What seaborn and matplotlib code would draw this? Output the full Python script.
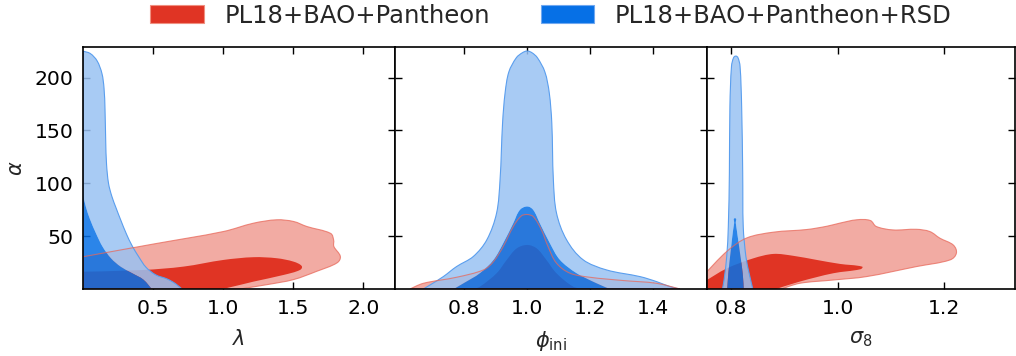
import numpy as np
import pandas as pd
import matplotlib
matplotlib.use("Agg")
import matplotlib.pyplot as plt
from matplotlib.patches import Patch, PathPatch
from matplotlib.path import Path
import seaborn as sns

# ---------------- data: contour outlines ----------------
series_names = ["PL18+BAO+Pantheon", "PL18+BAO+Pantheon+RSD"]
x_labels = [r"$\lambda$", r"$\phi_{\rm ini}$", r"$\sigma_8$"]
y_label = r"$\alpha$"
x_ticks = [[0.5, 1.0, 1.5, 2.0], [0.8, 1.0, 1.2, 1.4], [0.8, 1.0, 1.2]]
y_ticks = [50, 100, 150, 200]

# panel 1: lambda - alpha
lam_red95_x = [0, 0, 0.5, 1.002, 1.217, 1.383, 1.502, 1.598, 1.764, 1.788, 1.790, 1.836, 1.812, 1.669, 1.502, 1.312, 1.12]
lam_red95_y = [0, 30.5, 42.5, 54.4, 62.3, 65.5, 63.9, 59.1, 52.8, 46.5, 40.2, 30.9, 24.7, 16.8, 8.9, 4.1, 0]
lam_red68_x = [0, 0, 0.43, 0.717, 1.002, 1.217, 1.383, 1.502, 1.56, 1.548, 1.431, 1.217, 1.026, 0.979]
lam_red68_y = [0, 16.4, 18.0, 21.2, 27.5, 30.1, 29.1, 25.9, 21.8, 18.0, 13.3, 7.0, 0.9, 0]
lam_blue95_x = [0, 0, 0.05, 0.10, 0.135, 0.150, 0.157, 0.162, 0.168, 0.182, 0.205, 0.235, 0.27, 0.31, 0.35, 0.40, 0.45, 0.52, 0.60, 0.66, 0.705]
lam_blue95_y = [0, 225, 223, 216, 204, 190, 170, 140, 118, 100, 88, 77, 65, 52, 41, 30, 20.5, 13.3, 9.5, 5.0, 0]
lam_blue68_x = [0, 0, 0.02, 0.05, 0.095, 0.14, 0.20, 0.27, 0.35, 0.43, 0.49]
lam_blue68_y = [0, 89, 78, 66, 52, 40, 29, 21, 15, 9, 0]

# panel 2: phi_ini - alpha
phi_red95_x = [0.629, 0.671, 0.776, 0.861, 0.893, 0.924, 0.956, 0.982, 1.0, 1.019, 1.045, 1.066, 1.093, 1.136, 1.199, 1.305, 1.410, 1.484]
phi_red95_y = [0, 5.4, 11.1, 18.0, 25.9, 40.2, 59.1, 69.3, 70.5, 68.6, 56.0, 40.2, 24.4, 14.9, 11.1, 8.0, 5.4, 0]
phi_red68_x = [0.829, 0.850, 0.903, 0.935, 0.967, 1.0, 1.030, 1.061, 1.093, 1.146, 1.178]
phi_red68_y = [0, 2.2, 14.9, 27.5, 38.5, 41.7, 38.5, 27.5, 14.9, 2.2, 0]
phi_blue95_x = [0.671, 0.692, 0.734, 0.776, 0.829, 0.872, 0.903, 0.914, 0.922, 0.930, 0.942, 0.966, 0.985, 1.0, 1.015, 1.032, 1.056, 1.070, 1.078, 1.083, 1.093, 1.125, 1.178, 1.252, 1.358, 1.410, 1.453, 1.484]
phi_blue95_y = [0, 3.8, 11.7, 21.2, 30.7, 46.5, 71.8, 103.4, 157.2, 185.6, 205.5, 219.0, 223.6, 225.2, 223.6, 219.0, 205.5, 185.6, 157.2, 103.4, 71.8, 46.5, 27.5, 18.0, 11.7, 7.0, 2.2, 0]
phi_blue68_x = [0.767, 0.798, 0.850, 0.893, 0.924, 0.956, 0.977, 1.0, 1.019, 1.040, 1.072, 1.104, 1.157, 1.220, 1.262]
phi_blue68_y = [0, 5.4, 14.9, 27.5, 43.3, 62.3, 74.9, 78.1, 74.9, 62.3, 43.3, 27.5, 14.9, 5.4, 0]

# panel 3: sigma_8 - alpha
sig_red95_x = [0.755, 0.755, 0.7925, 0.83, 0.88, 0.9425, 0.98, 1.004, 1.036, 1.061, 1.073, 1.104, 1.148, 1.173, 1.192, 1.217, 1.223, 1.211, 1.148, 1.054, 0.992, 0.929, 0.895]
sig_red95_y = [0, 16.4, 35.7, 48.4, 53.8, 56.3, 59.4, 62.3, 65.5, 64.9, 59.1, 55.9, 56.5, 54.4, 48.1, 41.7, 33.9, 27.5, 21.2, 11.7, 8.5, 5.4, 0]
sig_red68_x = [0.755, 0.755, 0.7925, 0.8425, 0.880, 0.917, 0.961, 1.005, 1.046, 1.043, 0.992, 0.929, 0.885]
sig_red68_y = [0, 8.5, 19.6, 29.1, 33.2, 31.4, 27.5, 23.7, 21.2, 18.7, 14.9, 7.0, 0]
sig_blue95_x = [0.784, 0.787, 0.792, 0.795, 0.797, 0.798, 0.801, 0.805, 0.809, 0.813, 0.817, 0.820, 0.822, 0.823, 0.828, 0.834, 0.841]
sig_blue95_y = [0, 8.5, 30.7, 59.1, 109.7, 173, 210.9, 219, 220.4, 219, 210.9, 173, 109.7, 59.1, 30.7, 14.9, 0]
sig_blue68_x = [0.793, 0.795, 0.799, 0.803, 0.806, 0.8075, 0.809, 0.812, 0.817, 0.822, 0.824]
sig_blue68_y = [0, 14.9, 33.9, 52.0, 62.5, 67.0, 62.5, 52.0, 33.9, 14.9, 0]

panels = [
    dict(xlim=(0.0, 2.226), red95=(lam_red95_x, lam_red95_y), red68=(lam_red68_x, lam_red68_y),
         blue95=(lam_blue95_x, lam_blue95_y), blue68=(lam_blue68_x, lam_blue68_y)),
    dict(xlim=(0.581, 1.570), red95=(phi_red95_x, phi_red95_y), red68=(phi_red68_x, phi_red68_y),
         blue95=(phi_blue95_x, phi_blue95_y), blue68=(phi_blue68_x, phi_blue68_y)),
    dict(xlim=(0.755, 1.333), red95=(sig_red95_x, sig_red95_y), red68=(sig_red68_x, sig_red68_y),
         blue95=(sig_blue95_x, sig_blue95_y), blue68=(sig_blue68_x, sig_blue68_y)),
]
ylim = (0, 229)


def smooth_path(xs, ys, xlim, ylim, ccw=True):
    """Closed Bezier path through the read points (sharp at points on the axes edges)."""
    P = np.column_stack([xs, ys]).astype(float)
    area = 0.5 * np.sum(P[:, 0] * np.roll(P[:, 1], -1) - np.roll(P[:, 0], -1) * P[:, 1])
    if (area > 0) != ccw:
        P = P[::-1]
    n = len(P)
    sx = xlim[1] - xlim[0]
    sy = (ylim[1] - ylim[0]) * 0.78
    Q = np.column_stack([(P[:, 0] - xlim[0]) / sx, P[:, 1] / sy])
    corner = (np.abs(P[:, 0] - xlim[0]) < 1e-9) | (np.abs(P[:, 1]) < 1e-9)
    D = np.zeros_like(Q)
    for i in range(n):
        if corner[i]:
            continue
        d = Q[(i + 1) % n] - Q[i - 1]
        nd = np.hypot(*d)
        if nd > 0:
            D[i] = d / nd
    verts = [tuple(P[0])]
    codes = [Path.MOVETO]
    for i in range(n):
        j = (i + 1) % n
        L = np.hypot(*(Q[j] - Q[i]))
        if corner[i] and corner[j]:
            verts.append(tuple(P[j]))
            codes.append(Path.LINETO)
            continue
        c1 = Q[i] + D[i] * L / 3
        c2 = Q[j] - D[j] * L / 3
        for c in (c1, c2):
            verts.append((c[0] * sx + xlim[0], c[1] * sy))
            codes.append(Path.CURVE4)
        verts.append(tuple(P[j]))
        codes.append(Path.CURVE4)
    verts.append(tuple(P[0]))
    codes.append(Path.CLOSEPOLY)
    return Path(verts, codes)


# ---------------- style ----------------
sns.set_theme(style="ticks")
plt.rcParams["font.family"] = ["DejaVu Sans"]
plt.rcParams.update({
    "xtick.direction": "in", "ytick.direction": "in",
    "xtick.top": True, "ytick.right": True,
    "xtick.major.size": 5, "ytick.major.size": 5,
    "xtick.major.width": 1.0, "ytick.major.width": 1.0,
    "axes.linewidth": 1.2, "axes.edgecolor": "black",
    "xtick.color": "black", "ytick.color": "black",
    "mathtext.fontset": "dejavusans",
})

RED68 = "#E03424"
RED95 = "#F2ABA3"
REDLINE = "#E8685A"
BLUE68 = "#0670E6"
BLUE95 = "#99C2F3"
BLUELINE = "#5A9EEE"

fig = plt.figure(figsize=(10.16, 3.56), dpi=100)
W, H = 1016, 356
lefts = [83, 395, 707]
rights = [395, 707, 1015]
top_px, bot_px = 47, 289

for i, p in enumerate(panels):
    ax = fig.add_axes([lefts[i] / W, (H - bot_px) / H, (rights[i] - lefts[i]) / W, (bot_px - top_px) / H])
    xl = p["xlim"]
    r95 = smooth_path(*p["red95"], xl, ylim, ccw=True)
    r68 = smooth_path(*p["red68"], xl, ylim, ccw=True)
    b95 = smooth_path(*p["blue95"], xl, ylim, ccw=True)
    b68 = smooth_path(*p["blue68"], xl, ylim, ccw=True)
    b68_hole = smooth_path(*p["blue68"], xl, ylim, ccw=False)
    b_ring = Path.make_compound_path(b95, b68_hole)
    ax.add_patch(PathPatch(r95, facecolor=RED95, lw=0, zorder=1))
    ax.add_patch(PathPatch(r68, facecolor=RED68, lw=0, zorder=2))
    ax.add_patch(PathPatch(b_ring, facecolor=BLUE95, alpha=0.85, lw=0, zorder=3))
    ax.add_patch(PathPatch(b68, facecolor=BLUE68, alpha=0.85, lw=0, zorder=4))
    ax.add_patch(PathPatch(b95, facecolor="none", edgecolor=BLUELINE, lw=0.8, zorder=5))
    ax.add_patch(PathPatch(r95, facecolor="none", edgecolor=REDLINE, lw=0.8, alpha=0.75, zorder=6))
    ax.set_xlim(*xl)
    ax.set_ylim(*ylim)
    ax.set_xticks(x_ticks[i])
    ax.set_yticks(y_ticks)
    ax.tick_params(labelsize=14.7, pad=7)
    ax.set_xlabel(x_labels[i], fontsize=15, labelpad=8)
    if i == 0:
        ax.set_ylabel(y_label, fontsize=15, labelpad=6)
    else:
        ax.set_yticklabels([])
        ax.set_ylabel("")
    for s in ax.spines.values():
        s.set_zorder(10)

handles = [Patch(facecolor=RED68, edgecolor="#F09080", lw=0.8),
           Patch(facecolor=BLUE68, edgecolor="#70A8F0", lw=0.8)]
fig.legend(handles, series_names, loc="upper center", bbox_to_anchor=(551 / W, 1.0),
           ncol=2, frameon=False, fontsize=17.5, handlelength=2.2, handleheight=0.8,
           handletextpad=0.85, columnspacing=2.1, borderaxespad=0.0, borderpad=0.15)

fig.savefig("out.png", dpi=100)
